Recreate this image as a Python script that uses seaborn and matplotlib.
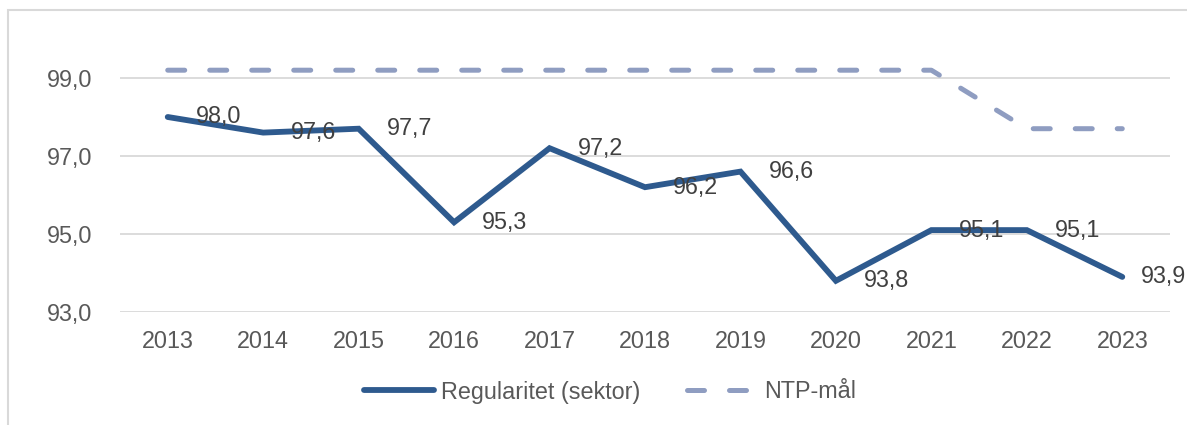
import matplotlib
matplotlib.use("Agg")
import matplotlib.pyplot as plt
import seaborn as sns
import pandas as pd
from matplotlib.patches import Rectangle

years = [2013, 2014, 2015, 2016, 2017, 2018, 2019, 2020, 2021, 2022, 2023]
regularitet = [98.0, 97.6, 97.7, 95.3, 97.2, 96.2, 96.6, 93.8, 95.1, 95.1, 93.9]
ntp_maal = [99.2, 99.2, 99.2, 99.2, 99.2, 99.2, 99.2, 99.2, 99.2, 97.7, 97.7]
y_ticks = [93.0, 95.0, 97.0, 99.0]
series_names = ["Regularitet (sektor)", "NTP-mål"]

sns.set_theme(style="white")
plt.rcParams['font.family'] = ['Liberation Sans', 'DejaVu Sans']

FS = 16.8
W, H = 1187, 425
fig = plt.figure(figsize=(W / 100, H / 100), dpi=100)
ax = fig.add_axes([120 / W, 1 - 312 / H, (1170 - 120) / W, (312 - 19.5) / H])

df = pd.DataFrame({"year": years, "reg": regularitet, "ntp": ntp_maal})

blue = "#2E5A8E"
lilac = "#8F9DC1"
sns.lineplot(data=df, x="year", y="reg", ax=ax, color=blue, lw=4.2,
             solid_capstyle="round", solid_joinstyle="miter", label=series_names[0], zorder=3)
sns.lineplot(data=df, x="year", y="ntp", ax=ax, color=lilac, lw=3.6,
             linestyle=(0, (3.4, 5.0)), dash_capstyle="round", label=series_names[1], zorder=2)

for i, (x, y) in enumerate(zip(years, regularitet)):
    off = 19 if i == len(years) - 1 else 28
    ax.annotate(f"{y:.1f}".replace(".", ","), (x, y), xytext=(off * 0.72, 0),
                textcoords="offset points", ha="left", va="center",
                fontsize=FS, color="#404040", annotation_clip=False, zorder=4)

ax.set_xlim(2012.5, 2023.5)
ax.set_ylim(93, 100.5)
ax.set_xticks(years)
ax.set_xticklabels([str(y) for y in years])
ax.set_yticks(y_ticks)
ax.set_yticklabels([f"{v:.1f}".replace(".", ",") for v in y_ticks])
ax.grid(axis="y", color="#D9D9D9", lw=1.3)
ax.grid(axis="x", visible=False)
for s in ax.spines.values():
    s.set_visible(False)
ax.tick_params(axis="both", length=0, labelsize=FS, colors="#595959")
ax.tick_params(axis="y", pad=20)
ax.tick_params(axis="x", pad=13)
ax.set_xlabel("")
ax.set_ylabel("")

handles, labels = ax.get_legend_handles_labels()
ax.get_legend().remove()
fig.legend(handles, labels, loc="center", bbox_to_anchor=(610 / W, 1 - 392 / H),
           ncol=2, frameon=False, fontsize=FS, handlelength=3.0,
           handletextpad=0.3, columnspacing=2.0, labelcolor="#595959")

fig.patches.append(Rectangle((7.5 / W, -0.1), 1.2, 1 - 10.5 / H + 0.1,
                             transform=fig.transFigure, fill=False,
                             edgecolor="#D9D9D9", lw=1.5))

fig.savefig("out.png", dpi=100)
